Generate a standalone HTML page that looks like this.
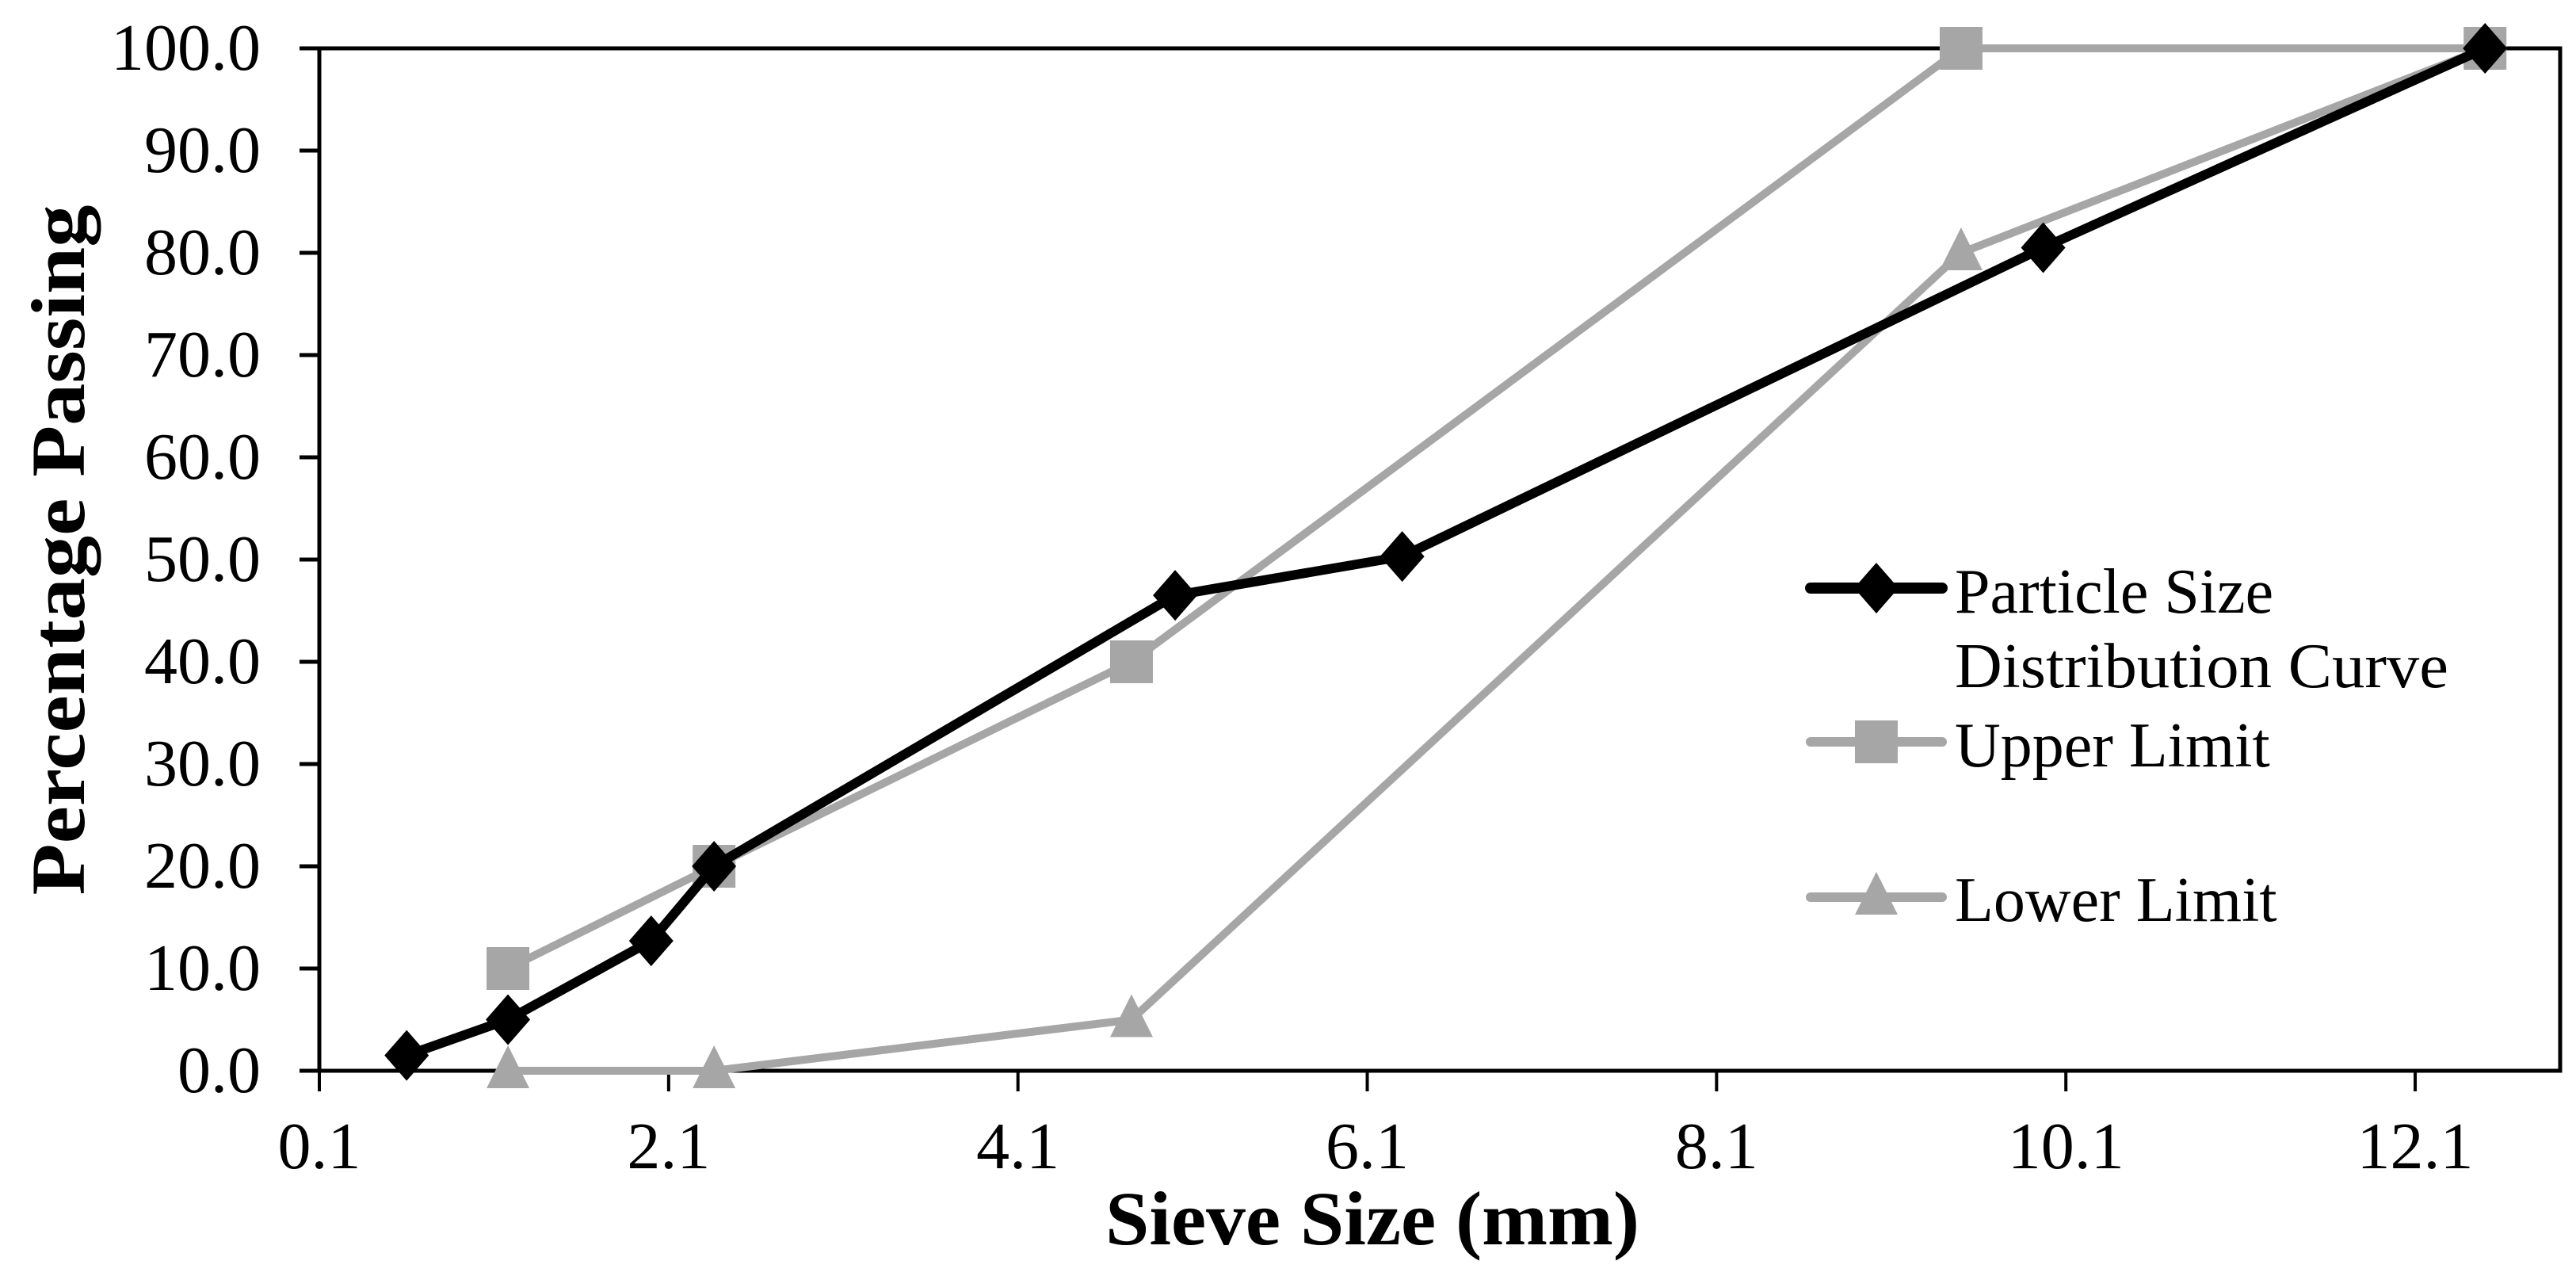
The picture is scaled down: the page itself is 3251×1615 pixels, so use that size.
<!DOCTYPE html>
<html><head><meta charset="utf-8"><style>
html,body{margin:0;padding:0;background:#fff;}
svg{display:block;font-family:"Liberation Serif",serif;}
</style></head><body>
<svg id="chart" width="3251" height="1615" viewBox="0 0 3251 1615" xmlns="http://www.w3.org/2000/svg">
<rect width="3251" height="1615" fill="#fff"/>
<g id="grid"></g>
<g id="series"></g>
<g id="legend"></g>
</svg>
<script>
const xTicks = [0.1, 2.1, 4.1, 6.1, 8.1, 10.1, 12.1];
const yTicks = [0, 10, 20, 30, 40, 50, 60, 70, 80, 90, 100];
const psdX = [0.6, 1.18, 2.0, 2.36, 5.0, 6.3, 9.97, 12.5];
const psdY = [1.5, 5.0, 12.7, 20.0, 46.5, 50.3, 80.5, 100];
const upperX = [1.18, 2.36, 4.75, 9.5, 12.5];
const upperY = [10, 20, 40, 100, 100];
const lowerX = [1.18, 2.36, 4.75, 9.5, 12.5];
const lowerY = [0, 0, 5, 80, 100];

const L=403, R=3231, T=61, B=1351, XMIN=0.1, XMAX=12.93;
const sx = v => L + (v - XMIN) / (XMAX - XMIN) * (R - L);
const sy = v => B - v / 100 * (B - T);
const NS="http://www.w3.org/2000/svg";
function mk(tag, attrs, parent){const e=document.createElementNS(NS,tag);for(const k in attrs)e.setAttribute(k,attrs[k]);parent.appendChild(e);return e;}
const grid=document.getElementById('grid'), ser=document.getElementById('series'), leg=document.getElementById('legend');

const frame=mk('rect',{x:L,y:T,width:R-L,height:B-T,fill:'none',stroke:'#000','stroke-width':5},grid);


xTicks.forEach(v=>{
  const t=mk('line',{x1:sx(v),x2:sx(v),y1:B,y2:B+26,stroke:'#000','stroke-width':4},grid);
  
  
  const tx=mk('text',{x:sx(v),y:1474,'font-size':84,'text-anchor':'middle'},grid);
  tx.textContent=v.toFixed(1);
  
  
});
yTicks.forEach(v=>{
  const t=mk('line',{x1:L-25,x2:L,y1:sy(v),y2:sy(v),stroke:'#000','stroke-width':5},grid);
  
  
  const tx=mk('text',{x:329,y:sy(v)+27,'font-size':84,'text-anchor':'end'},grid);
  tx.textContent=v.toFixed(1);
  
  
});
const xt=mk('text',{x:1732,y:1570,'font-size':96,'font-weight':'bold','text-anchor':'middle',textLength:674,lengthAdjust:'spacingAndGlyphs'},grid);
xt.textContent='Sieve Size (mm)';


const yt=mk('text',{x:0,y:0,'font-size':96,'font-weight':'bold','text-anchor':'middle',textLength:871,lengthAdjust:'spacingAndGlyphs',transform:'translate(106,694) rotate(-90)'},grid);
yt.textContent='Percentage Passing';



function marker(kind,cx,cy,color,parent){
  if(kind==='diamond') return mk('polygon',{points:`${cx},${cy-32} ${cx+28},${cy} ${cx},${cy+32} ${cx-28},${cy}`,fill:color},parent);
  if(kind==='square') return mk('rect',{x:cx-27,y:cy-27,width:54,height:54,fill:color},parent);
  return mk('polygon',{points:`${cx},${cy-32} ${cx+27},${cy+22} ${cx-27},${cy+22}`,fill:color},parent);
}
function series(xs,ys,color,w,kind,name){
  const g=mk('g',{},ser);
  
  
  const p=mk('polyline',{points:xs.map((x,i)=>sx(x)+','+sy(ys[i])).join(' '),fill:'none',stroke:color,'stroke-width':w,'stroke-linejoin':'round','stroke-linecap':'round'},g);
  
  
  xs.forEach((x,i)=>{
    const m=marker(kind,sx(x),sy(ys[i]),color,g);
    
    
  });
}
series(lowerX,lowerY,'#a6a6a6',10,'triangle','lower-limit');
series(upperX,upperY,'#a6a6a6',10,'square','upper-limit');
series(psdX,psdY,'#000',12,'diamond','particle-size-curve');

const legItems=[['Particle Size','Distribution Curve','#000','diamond',742,773,12],['Upper Limit',null,'#a6a6a6','square',936,967,10],['Lower Limit',null,'#a6a6a6','triangle',1132,1162,10]];
legItems.forEach(it=>{
  const g=mk('g',{},leg);
  
  
  mk('line',{x1:2285,x2:2451,y1:it[4],y2:it[4],stroke:it[2],'stroke-width':it[6]+2,'stroke-linecap':'round'},g);
  marker(it[3],2368,it[4],it[2],g);
  const t=mk('text',{x:2467,y:it[5],'font-size':80},g);
  t.textContent=it[0];
  
  
  if(it[1]){
    const t2=mk('text',{x:2467,y:867,'font-size':80,textLength:623,lengthAdjust:'spacingAndGlyphs'},g);
    t2.textContent=it[1];
    
    
  }
});
</script>
</body></html>
